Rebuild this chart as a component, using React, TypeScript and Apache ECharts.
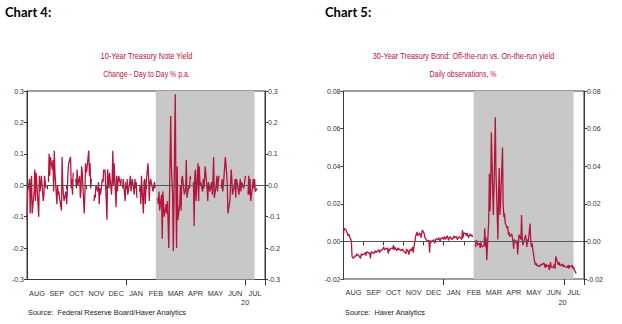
import React, { useEffect, useRef } from "react";
import * as echarts from "echarts";

// ---------- Data ----------
const MONTH_LABELS = ["AUG", "SEP", "OCT", "NOV", "DEC", "JAN", "FEB", "MAR", "APR", "MAY", "JUN", "JUL"];
const MONTH_KEYS: [number, number][] = [
  [2019, 8], [2019, 9], [2019, 10], [2019, 11], [2019, 12],
  [2020, 1], [2020, 2], [2020, 3], [2020, 4], [2020, 5], [2020, 6], [2020, 7],
];
const YEAR_LABEL = "20";
const LEFT_TICKS = [-0.3, -0.2, -0.1, 0, 0.1, 0.2, 0.3];
const RIGHT_TICKS = [-0.02, 0, 0.02, 0.04, 0.06, 0.08];
const RECESSION_START = "2020-02-15";
const RECESSION_END = "2020-07-16";

// 10-Year Treasury Note Yield, change day to day (% p.a.), one value per business day
const chg10Aug19 = [-0.11, -0.02, 0.02, -0.09, 0.0, 0.03, -0.09, -0.02, 0.05, -0.05, 0.04, 0.01, -0.10, 0.03, -0.02, 0.0, 0.03, -0.05, -0.03, 0.03, 0.01, -0.01];
const chg10Sep19 = [null, 0.01, 0.10, 0.03, 0.09, 0.05, 0.08, -0.02, 0.11, 0.04, -0.06, 0.0, -0.03, -0.02, -0.04, -0.08, 0.09, 0.0, -0.03, -0.05, -0.02];
const chg10Oct19 = [-0.06, -0.02, 0.04, 0.07, 0.09, -0.01, 0.02, -0.03, 0.04, null, 0.02, -0.01, 0.05, 0.0, 0.03, -0.04, -0.02, 0.06, 0.04, -0.09, -0.03, 0.07, 0.04];
const chg10Nov19 = [0.05, 0.11, 0.03, 0.07, -0.01, 0.02, null, -0.05, -0.03, -0.04, 0.0, -0.02, 0.01, -0.06, -0.01, -0.03, 0.02, 0.01, 0.05, null, 0.05];
const chg10Dec19 = [-0.11, 0.05, 0.05, -0.01, 0.04, -0.03, 0.02, 0.11, 0.0, 0.07, -0.07, 0.03, -0.02, 0.01, 0.03, 0.0, 0.02, null, -0.01, 0.02, -0.05, 0.01];
const chg10Jan20 = [null, 0.02, -0.03, 0.01, 0.03, -0.02, 0.0, 0.02, -0.03, 0.02, -0.01, 0.01, -0.04, null, -0.02, 0.0, -0.06, 0.03, -0.09, 0.01, 0.02, -0.06, 0.0];
const chg10Feb20 = [0.07, 0.03, -0.05, 0.0, 0.02, -0.01, -0.02, 0.0, 0.01, -0.01, null, -0.04, -0.06, -0.02, -0.08, -0.03, -0.17, -0.02, -0.06, -0.10];
const chg10Mar20 = [-0.06, -0.09, -0.05, -0.12, -0.20, 0.22, 0.06, 0.06, -0.03, -0.21, 0.29, 0.0, -0.20, 0.06, -0.11, -0.06, 0.0, -0.08, 0.02, 0.03, -0.03, -0.02];
const chg10Apr20 = [-0.01, 0.08, -0.04, 0.0, -0.01, 0.03, 0.02, null, 0.01, -0.13, 0.03, 0.05, -0.05, 0.07, -0.05, 0.06, 0.0, 0.01, -0.02, 0.02, -0.01, 0.02];
const chg10May20 = [0.06, -0.01, -0.05, 0.01, 0.0, -0.02, 0.01, -0.03, 0.02, 0.09, -0.04, 0.0, 0.03, -0.02, 0.01, 0.03, null, -0.01, 0.02, -0.02, 0.0];
const chg10Jun20 = [0.09, 0.09, 0.04, 0.0, -0.09, -0.05, 0.0, 0.05, 0.02, -0.03, 0.0, 0.02, -0.04, 0.02, 0.01, -0.03, 0.0, 0.02, -0.02, 0.01, -0.01, 0.0];
const chg10Jul20 = [0.0, 0.03, null, -0.03, 0.03, -0.03, 0.02, -0.05, 0.0, 0.02, -0.01, 0.02, -0.02, -0.01];

// 30-Year Treasury Bond: off-the-run minus on-the-run yield (%), one value per business day
const sprAug19 = [0.004, 0.007, 0.006, 0.005, 0.004, 0.003, 0.004, 0.001, 0.0, -0.008, -0.0085, -0.009, -0.0075, -0.008, -0.0065, -0.0075, -0.007, -0.0085, -0.009, -0.0065, -0.0075, -0.007];
const sprSep19 = [-0.0065, -0.006, -0.0075, -0.006, -0.0055, -0.0065, -0.006, -0.009, -0.006, -0.0055, -0.0065, -0.006, -0.005, -0.0055, -0.006, -0.0045, -0.005, -0.006, -0.0045, -0.005, -0.004];
const sprOct19 = [-0.003, -0.004, -0.0045, -0.004, -0.0035, -0.0065, -0.004, -0.005, -0.004, -0.0035, -0.004, -0.002, -0.0045, -0.003, -0.005, -0.004, -0.0035, -0.0045, -0.004, -0.005, -0.0045, -0.004, -0.005];
const sprNov19 = [-0.005, -0.0065, -0.004, -0.005, -0.0045, -0.007, -0.004, -0.005, -0.0045, -0.003, -0.006, 0.001, 0.003, 0.004, 0.005, 0.003, 0.0045, 0.0035, 0.002, 0.004, 0.006];
const sprDec19 = [0.004, 0.002, 0.0015, 0.001, 0.0, 0.0005, -0.006, 0.0, 0.0005, -0.0005, 0.001, 0.0, -0.001, 0.0005, 0.0015, 0.001, 0.002, 0.001, 0.0, 0.0015, 0.002, 0.001];
const sprJan20 = [0.002, 0.0025, 0.001, 0.003, 0.0015, 0.0005, 0.002, 0.0025, 0.001, 0.002, 0.0015, 0.003, 0.002, 0.0025, 0.001, 0.0015, 0.002, 0.0025, 0.0015, 0.001, 0.006, 0.002, 0.0045];
const sprFeb20 = [0.004, 0.003, 0.0045, 0.0035, 0.002, 0.004, 0.003, 0.0035, 0.0025, 0.003, null, -0.003, 0.0007, 0.0, -0.002, -0.001, -0.0035, -0.0005, -0.002, -0.003];
const sprMar20 = [-0.002, 0.007, -0.003, 0.002, -0.010, 0.0105, 0.036, 0.016, 0.030, 0.058, 0.014, 0.028, 0.045, 0.066, 0.037, 0.001, 0.026, 0.039, 0.014, 0.02, 0.05, 0.019];
const sprApr20 = [0.013, 0.015, 0.010, 0.007, 0.008, 0.0035, 0.005, 0.0025, 0.004, 0.002, 0.0, -0.004, 0.001, -0.001, 0.0005, -0.007, -0.002, 0.0035, 0.001, 0.014, 0.0015, -0.002];
const sprMay20 = [-0.002, 0.0035, 0.001, -0.003, 0.001, -0.0005, 0.0095, 0.0, -0.003, -0.001, -0.004, -0.011, -0.0125, -0.0115, -0.013, -0.0125, -0.0135, -0.0125, -0.013, -0.012, -0.0125];
const sprJun20 = [-0.0115, -0.013, -0.014, -0.012, -0.0135, -0.0125, -0.015, -0.0145, -0.011, -0.0135, -0.014, -0.013, -0.012, -0.0145, -0.008, -0.0115, -0.0125, -0.011, -0.0125, -0.013, -0.012, -0.0135];
const sprJul20 = [-0.0125, -0.013, -0.0135, -0.0135, -0.014, -0.0125, -0.0145, -0.013, -0.0135, -0.0125, -0.0145, -0.0135, -0.015, -0.017];

const chg10Months = [chg10Aug19, chg10Sep19, chg10Oct19, chg10Nov19, chg10Dec19, chg10Jan20, chg10Feb20, chg10Mar20, chg10Apr20, chg10May20, chg10Jun20, chg10Jul20];
const sprMonths = [sprAug19, sprSep19, sprOct19, sprNov19, sprDec19, sprJan20, sprFeb20, sprMar20, sprApr20, sprMay20, sprJun20, sprJul20];

// ---------- Helpers ----------
const pad = (n: number) => (n < 10 ? "0" + n : "" + n);
function weekdays(y: number, m: number): string[] {
  const out: string[] = [];
  const days = new Date(y, m, 0).getDate();
  for (let d = 1; d <= days; d++) {
    const wd = new Date(y, m - 1, d).getDay();
    if (wd !== 0 && wd !== 6) out.push(`${y}-${pad(m)}-${pad(d)}`);
  }
  return out;
}
function buildSeries(months: (number | null)[][]) {
  const data: any[] = [];
  months.forEach((vals, i) => {
    const [y, m] = MONTH_KEYS[i];
    const days = weekdays(y, m);
    vals.forEach((v, j) => {
      if (j < days.length) data.push([days[j], v === null ? "-" : v]);
    });
  });
  return data;
}

const FONT = "'Liberation Sans', Arial, sans-serif";
const RED = "#b5143c";
const AXIS = "#3a3a3a";

const G1 = { left: 27, top: 91, width: 238, height: 188.5 };
const G2 = { left: 343.5, top: 91, width: 240.5, height: 188 };

export default function App() {
  const ref = useRef<HTMLDivElement>(null);
  useEffect(() => {
    if (!ref.current) return;
    const chart = echarts.init(ref.current, undefined, { renderer: "svg" });
    const axisText = { fontFamily: FONT, fontSize: 7, color: "#333" };

    const valueAxis = (grid: number, pos: "left" | "right", ticks: number[], dec: number) => ({
      type: "value",
      gridIndex: grid,
      position: pos,
      min: ticks[0],
      max: ticks[ticks.length - 1],
      interval: ticks[1] - ticks[0],
      axisLine: { show: true, lineStyle: { color: AXIS, width: 1 } },
      axisTick: { show: true, inside: false, length: 3, lineStyle: { color: AXIS } },
      axisLabel: {
        ...axisText,
        margin: 3,
        formatter: (v: number) => (Math.abs(v) < 1e-9 ? 0 : v).toFixed(dec),
      },
      splitLine: { show: false },
    });
    const timeAxis = (grid: number) => ({
      type: "time",
      gridIndex: grid,
      min: "2019-08-01",
      max: "2020-08-01",
      show: false,
    });
    const monthAxis = (grid: number) => ({
      type: "category",
      gridIndex: grid,
      position: "bottom",
      data: MONTH_LABELS,
      boundaryGap: true,
      axisLine: { show: true, lineStyle: { color: AXIS } },
      axisTick: { show: true, length: 4, interval: 0, lineStyle: { color: AXIS } },
      axisLabel: { ...axisText, fontSize: 7.3, interval: 0, margin: 10 },
      splitLine: { show: false },
    });
    const yearTickAxis = (grid: number) => ({
      type: "category",
      gridIndex: grid,
      position: "bottom",
      data: MONTH_LABELS,
      boundaryGap: true,
      axisLine: { show: false },
      axisTick: { show: true, length: 6, interval: (i: number) => i === 5 || i === 11, lineStyle: { color: AXIS } },
      axisLabel: { show: false },
      splitLine: { show: false },
    });

    const lineSeries = (name: string, data: any[], xi: number, yi: number, s: string, e: string) => ({
      name,
      type: "line",
      xAxisIndex: xi,
      yAxisIndex: yi,
      data,
      showSymbol: false,
      symbol: "none",
      connectNulls: false,
      lineStyle: { color: RED, width: 1.3 },
      markArea: {
        silent: true,
        itemStyle: { color: "#c8c8c8" },
        data: [[{ xAxis: s }, { xAxis: e }]],
      },
      markLine: {
        silent: true,
        symbol: "none",
        label: { show: false },
        lineStyle: { color: "#555", width: 1, type: "solid" },
        data: [{ yAxis: 0 }],
      },
      z: 3,
    });

    const txt = (x: number, y: number, text: string, font: string, fill: string, align = "center", sx = 1) => ({
      type: "text",
      x,
      y,
      scaleX: sx,
      style: { text, font, fill, textAlign: align, textVerticalAlign: "middle" },
    });
    const titleFont = `9px ${FONT}`;
    const smallFont = `8px ${FONT}`;
    const g1Center = G1.left + G1.width / 2;

    chart.setOption({
      animation: false,
      grid: [
        { ...G1, show: true, borderColor: AXIS, borderWidth: 1, backgroundColor: "transparent" },
        { ...G2, show: true, borderColor: AXIS, borderWidth: 1, backgroundColor: "transparent" },
      ],
      xAxis: [timeAxis(0), timeAxis(1), monthAxis(0), monthAxis(1), yearTickAxis(0), yearTickAxis(1)],
      yAxis: [
        valueAxis(0, "left", LEFT_TICKS, 1),
        valueAxis(0, "right", LEFT_TICKS, 1),
        valueAxis(1, "left", RIGHT_TICKS, 2),
        valueAxis(1, "right", RIGHT_TICKS, 2),
      ],
      series: [
        lineSeries("10-Year Treasury Note Yield", buildSeries(chg10Months), 0, 0, RECESSION_START, RECESSION_END),
        lineSeries("30-Year Treasury Bond spread", buildSeries(sprMonths), 1, 2, RECESSION_START, RECESSION_END),
      ],
      graphic: [
        txt(5, 12, "Chart 4:", "bold 13px Lato, 'Open Sans', sans-serif", "#000", "left"),
        txt(325, 12, "Chart 5:", "bold 13px Lato, 'Open Sans', sans-serif", "#000", "left"),
        txt(g1Center + 0.5, 56, "10-Year Treasury Note Yield", titleFont, RED, "center", 0.82),
        txt(g1Center + 0.5, 74.5, "Change - Day to Day % p.a.", `8.5px ${FONT}`, RED, "center", 0.82),
        txt(463.5, 56, "30-Year Treasury Bond: Off-the-run vs. On-the-run yield", titleFont, RED, "center", 0.82),
        txt(463, 74.5, "Daily observations, %", `8.5px ${FONT}`, RED, "center", 0.82),
        txt(G1.left + (G1.width * 11) / 12, 302.5, YEAR_LABEL, `7.3px ${FONT}`, "#333"),
        txt(G2.left + (G2.width * 11) / 12 - 1.5, 302.5, YEAR_LABEL, `7.3px ${FONT}`, "#333"),
        txt(28, 312.5, "Source:  Federal Reserve Board/Haver Analytics", smallFont, "#222", "left", 0.92),
        txt(345, 312.5, "Source:  Haver Analytics", smallFont, "#222", "left", 0.92),
      ],
    });
    return () => chart.dispose();
  }, []);
  return (
    <div
      ref={ref}
      style={{ position: "fixed", left: 0, top: 0, width: 622, height: 324, background: "#fff" }}
    />
  );
}
